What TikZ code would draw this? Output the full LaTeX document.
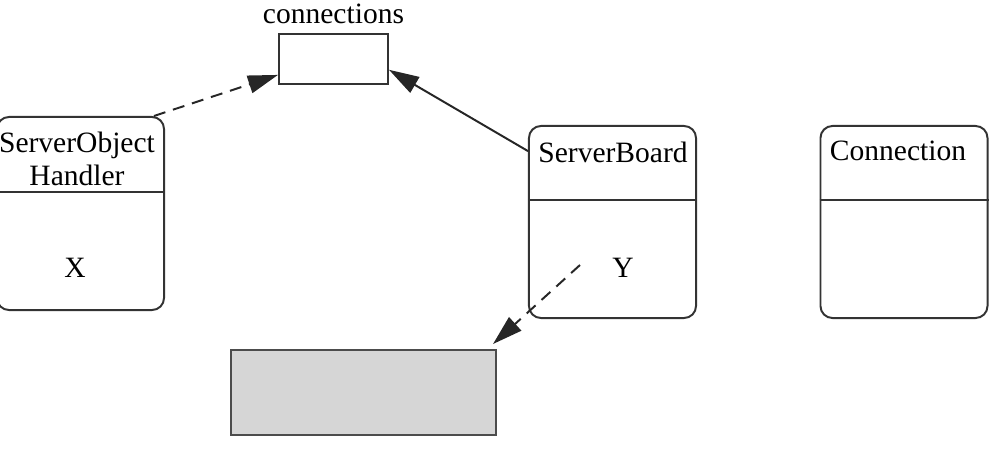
\documentclass[tikz,border=0pt]{standalone}
\usepackage{fontspec}
\setmainfont{Liberation Serif}
\usetikzlibrary{positioning,arrows.meta}

\begin{document}
\begin{tikzpicture}[
  x=0.025cm, y=-0.025cm,
  font=\fontsize{21}{24}\selectfont,
  line width=1.4pt,
  inner sep=0pt,
  classbox/.style={draw=black!80, rounded corners=0.3cm, minimum width=4.175cm, minimum height=4.8cm},
  plainbox/.style={draw=black!80, minimum width=2.725cm, minimum height=1.25cm},
  shadebox/.style={draw=black!70, fill=black!16, minimum width=6.625cm, minimum height=2.125cm},
  divider/.style={draw=black!80},
  arrow/.style={-{Triangle[length=7.5mm, width=4.5mm]}, draw=black!85},
  dasharrow/.style={arrow, dash pattern=on 3mm off 2mm}
]
\useasboundingbox (0,0) rectangle (1007,462);
\node[classbox, minimum height=4.825cm] (handler) at (80.5,213.5) {};
\node[classbox] (board) at (612.5,222) {};
\node[classbox] (connection) at (904,222) {};
\node[plainbox] (connset) at (333.5,59) {};
\node[shadebox] (shaded) at (363.5,392.5) {};
\draw[divider] ([yshift=-1.9cm]handler.north west) -- ([yshift=-1.9cm]handler.north east);
\draw[divider] ([yshift=-1.875cm]board.north west) -- ([yshift=-1.875cm]board.north east);
\draw[divider] ([yshift=-1.875cm]connection.north west) -- ([yshift=-1.875cm]connection.north east);
% class names and contents
\node[align=center] (handlername) at (77,159) {ServerObject\\Handler};
\node (boardname) at (613,152) {ServerBoard};
\node (connectionname) at (898,151) {Connection};
\node[above=0.2cm of connset] (connsetname) {connections};
\node (xmark) at (75,268) {X};
\node (ymark) at (623,268) {Y};
\coordinate (ytail) at (580,265);
% references
\draw[dasharrow] (handler.53) -- (connset.196);
\draw[arrow] (board.140) -- (connset.-11);
\draw[dasharrow] (ytail) -- ([shift={(-4,-5)}]shaded.north east);
\end{tikzpicture}
\end{document}
